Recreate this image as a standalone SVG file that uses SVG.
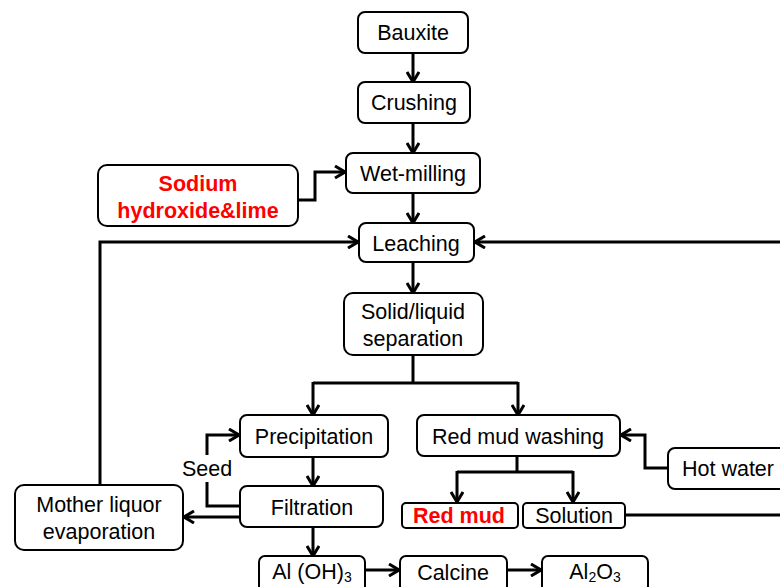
<svg xmlns="http://www.w3.org/2000/svg" width="780" height="587" viewBox="0 0 780 587">
<style>
.box{fill:#fff;stroke:#000;stroke-width:2}
.t{font-family:"Liberation Sans",Arial,sans-serif;font-size:21.5px;fill:#000;text-anchor:middle}
.r{font-weight:bold;fill:#ff0000}
.c{fill:none;stroke:#000;stroke-width:3}
</style>
<defs>
<marker id="a" viewBox="0 0 12 14" refX="11" refY="7" markerWidth="12" markerHeight="14" markerUnits="userSpaceOnUse" orient="auto">
<path d="M1,1 L11,7 L1,13" fill="none" stroke="#000" stroke-width="3"/>
</marker>
</defs>
<rect width="780" height="587" fill="#fff"/>
<g id="connectors">
<path class="c" d="M413,53 V82" marker-end="url(#a)"/>
<path class="c" d="M413,123 V153" marker-end="url(#a)"/>
<path class="c" d="M298,200 H315 V172 H345" marker-end="url(#a)"/>
<path class="c" d="M413,193 V223" marker-end="url(#a)"/>
<path class="c" d="M100,486 V242 H358" marker-end="url(#a)"/>
<path class="c" d="M413,262 V293" marker-end="url(#a)"/>
<path class="c" d="M413,355 V383"/>
<path class="c" d="M313,383 H518"/>
<path class="c" d="M313,382 V415" marker-end="url(#a)"/>
<path class="c" d="M518,382 V415" marker-end="url(#a)"/>
<path class="c" d="M313,457 V486" marker-end="url(#a)"/>
<path class="c" d="M240,506 H207 V482"/>
<path class="c" d="M207,455 V435 H239" marker-end="url(#a)"/>
<path class="c" d="M240,517 H184" marker-end="url(#a)"/>
<path class="c" d="M313,527 V556" marker-end="url(#a)"/>
<path class="c" d="M365,570 H399" marker-end="url(#a)"/>
<path class="c" d="M507,570 H541" marker-end="url(#a)"/>
<path class="c" d="M517,456 V472"/>
<path class="c" d="M457,472 H573"/>
<path class="c" d="M457,471 V502" marker-end="url(#a)"/>
<path class="c" d="M573,471 V502" marker-end="url(#a)"/>
<path class="c" d="M668,468 H645 V435 H621" marker-end="url(#a)"/>
<path class="c" d="M625,515 H785 V242 H475" marker-end="url(#a)"/>
</g>
<g id="bauxite"><rect class="box" x="358" y="12" width="110" height="41" rx="7"/><text class="t" x="413" y="40">Bauxite</text></g>
<g id="crushing"><rect class="box" x="358" y="82" width="112" height="41" rx="7"/><text class="t" x="414" y="110">Crushing</text></g>
<g id="wetmilling"><rect class="box" x="346" y="153" width="134" height="40" rx="7"/><text class="t" x="413" y="181">Wet-milling</text></g>
<g id="sodium"><rect class="box" x="98" y="165" width="200" height="61" rx="9"/><text class="t r" x="198" y="191">Sodium</text><text class="t r" x="198" y="218">hydroxide&amp;lime</text></g>
<g id="leaching"><rect class="box" x="359" y="223" width="115" height="39" rx="7"/><text class="t" x="416" y="251">Leaching</text></g>
<g id="separation"><rect class="box" x="344" y="293" width="139" height="62" rx="9"/><text class="t" x="413" y="319">Solid/liquid</text><text class="t" x="413" y="346">separation</text></g>
<g id="precipitation"><rect class="box" x="240" y="415" width="148" height="42" rx="7"/><text class="t" x="314" y="444">Precipitation</text></g>
<g id="seed"><text class="t" x="207" y="476">Seed</text></g>
<g id="filtration"><rect class="box" x="240" y="486" width="143" height="41" rx="7"/><text class="t" x="312" y="515">Filtration</text></g>
<g id="mother"><rect class="box" x="15" y="485" width="168" height="65" rx="9"/><text class="t" x="99" y="512">Mother liquor</text><text class="t" x="99" y="539">evaporation</text></g>
<g id="aloh3"><rect class="box" x="259" y="556" width="106" height="36" rx="6"/><text class="t" x="312" y="579">Al (OH)<tspan font-size="14" dy="3">3</tspan></text></g>
<g id="calcine"><rect class="box" x="400" y="556" width="107" height="36" rx="6"/><text class="t" x="453" y="580">Calcine</text></g>
<g id="al2o3"><rect class="box" x="542" y="556" width="106" height="36" rx="6"/><text class="t" x="595" y="579">Al<tspan font-size="14" dy="3">2</tspan><tspan dy="-3">O</tspan><tspan font-size="14" dy="3">3</tspan></text></g>
<g id="washing"><rect class="box" x="417" y="415" width="203" height="41" rx="7"/><text class="t" x="518" y="444">Red mud washing</text></g>
<g id="hotwater"><rect class="box" x="668" y="448" width="130" height="41" rx="7"/><text class="t" x="728" y="476">Hot water</text></g>
<g id="redmud"><rect class="box" x="402" y="503" width="116" height="25" rx="4"/><text class="t r" x="459" y="523">Red mud</text></g>
<g id="solution"><rect class="box" x="523" y="503" width="102" height="25" rx="4"/><text class="t" x="574" y="523">Solution</text></g>
</svg>
